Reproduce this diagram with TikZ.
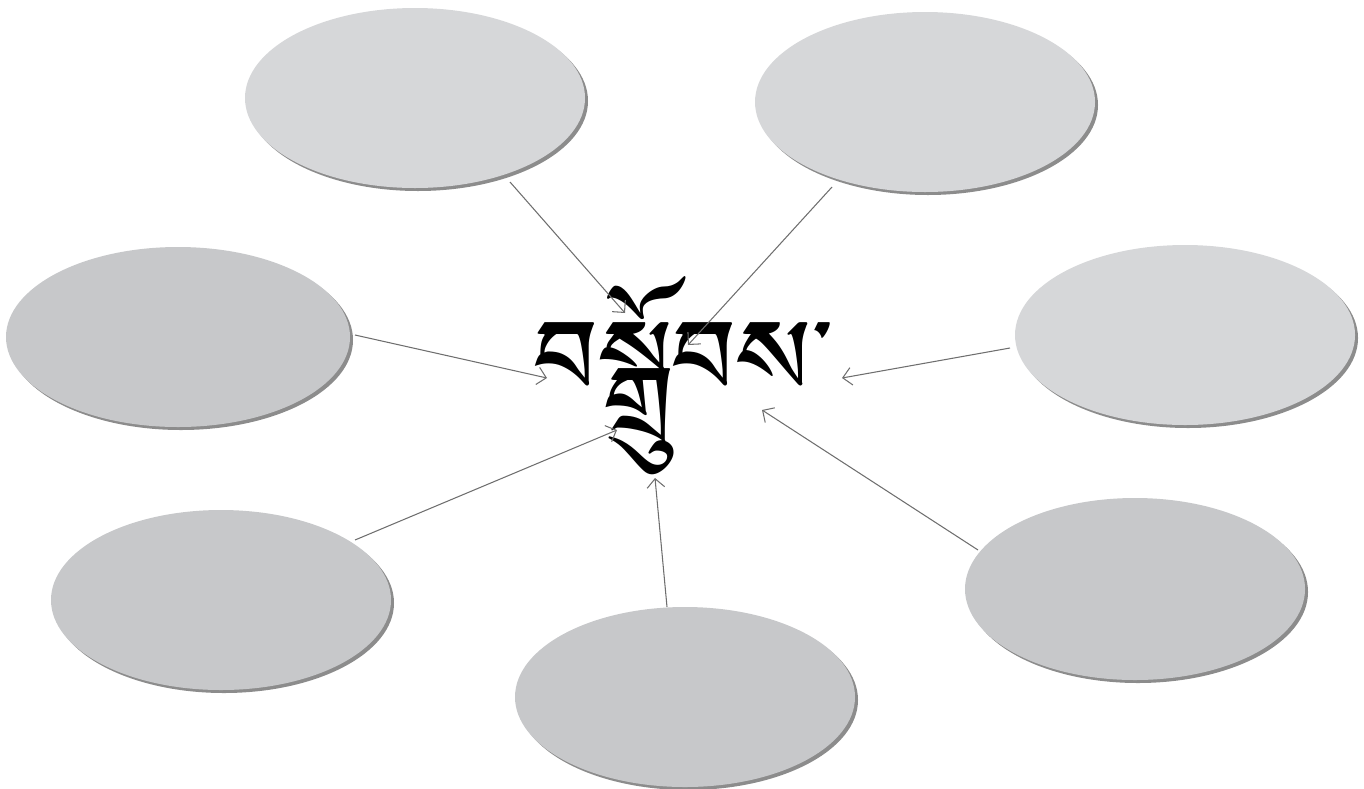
\documentclass[tikz,border=0pt]{standalone}
\usepackage{fontspec}
\usetikzlibrary{arrows.meta,shapes.geometric}
\newfontfamily\tibfont[Script=Tibetan]{Jomolhari}
\definecolor{ovlight}{HTML}{D6D7D9}
\definecolor{ovdark}{HTML}{C7C8CA}
\definecolor{ovshadow}{HTML}{8C8C8C}
\definecolor{arrowgray}{HTML}{6E6E6E}
\newlength{\px}\setlength{\px}{0.02cm}
\tikzset{
  oval/.style={ellipse, minimum width=340\px, minimum height=180\px, inner sep=0pt,
    draw=none, preaction={fill=ovshadow, transform canvas={shift={(3\px,-3\px)}}}},
  link/.style={draw=arrowgray, line width=0.6pt, -{Straight Barb[length=5pt,width=10pt,line width=0.6pt]}},
}
\begin{document}
\begin{tikzpicture}[x=0.02cm,y=-0.02cm]
\useasboundingbox (0,0) rectangle (1364,788);
\node[oval, fill=ovlight] (e1) at (415,98) {};
\node[oval, fill=ovlight] (e2) at (925,102) {};
\node[oval, fill=ovdark, minimum width=344\px] (e3) at (178,337) {};
\node[oval, fill=ovlight] (e4) at (1185,335) {};
\node[oval, fill=ovdark] (e5) at (221,600) {};
\node[oval, fill=ovdark, minimum height=182\px] (e6) at (1135,589) {};
\node[oval, fill=ovdark] (e7) at (685,697) {};
\node[inner sep=0pt] (c) at (683,376) {\tibfont\fontsize{77}{85}\selectfont བསྒྲོུབས་};
\coordinate (s1) at (510,182); \coordinate (t1) at (625,313);
\coordinate (s2) at (832,187); \coordinate (t2) at (688,345);
\coordinate (s3) at (355,335); \coordinate (t3) at (547,378);
\coordinate (s4) at (1010,348); \coordinate (t4) at (842,378);
\coordinate (s5) at (355,540); \coordinate (t5) at (617,430);
\coordinate (s6) at (667,607); \coordinate (t6) at (655,478);
\coordinate (s7) at (978,550); \coordinate (t7) at (762,410);
\foreach \i in {1,...,7} {\draw[link] (s\i) -- (t\i);}
\end{tikzpicture}
\end{document}
